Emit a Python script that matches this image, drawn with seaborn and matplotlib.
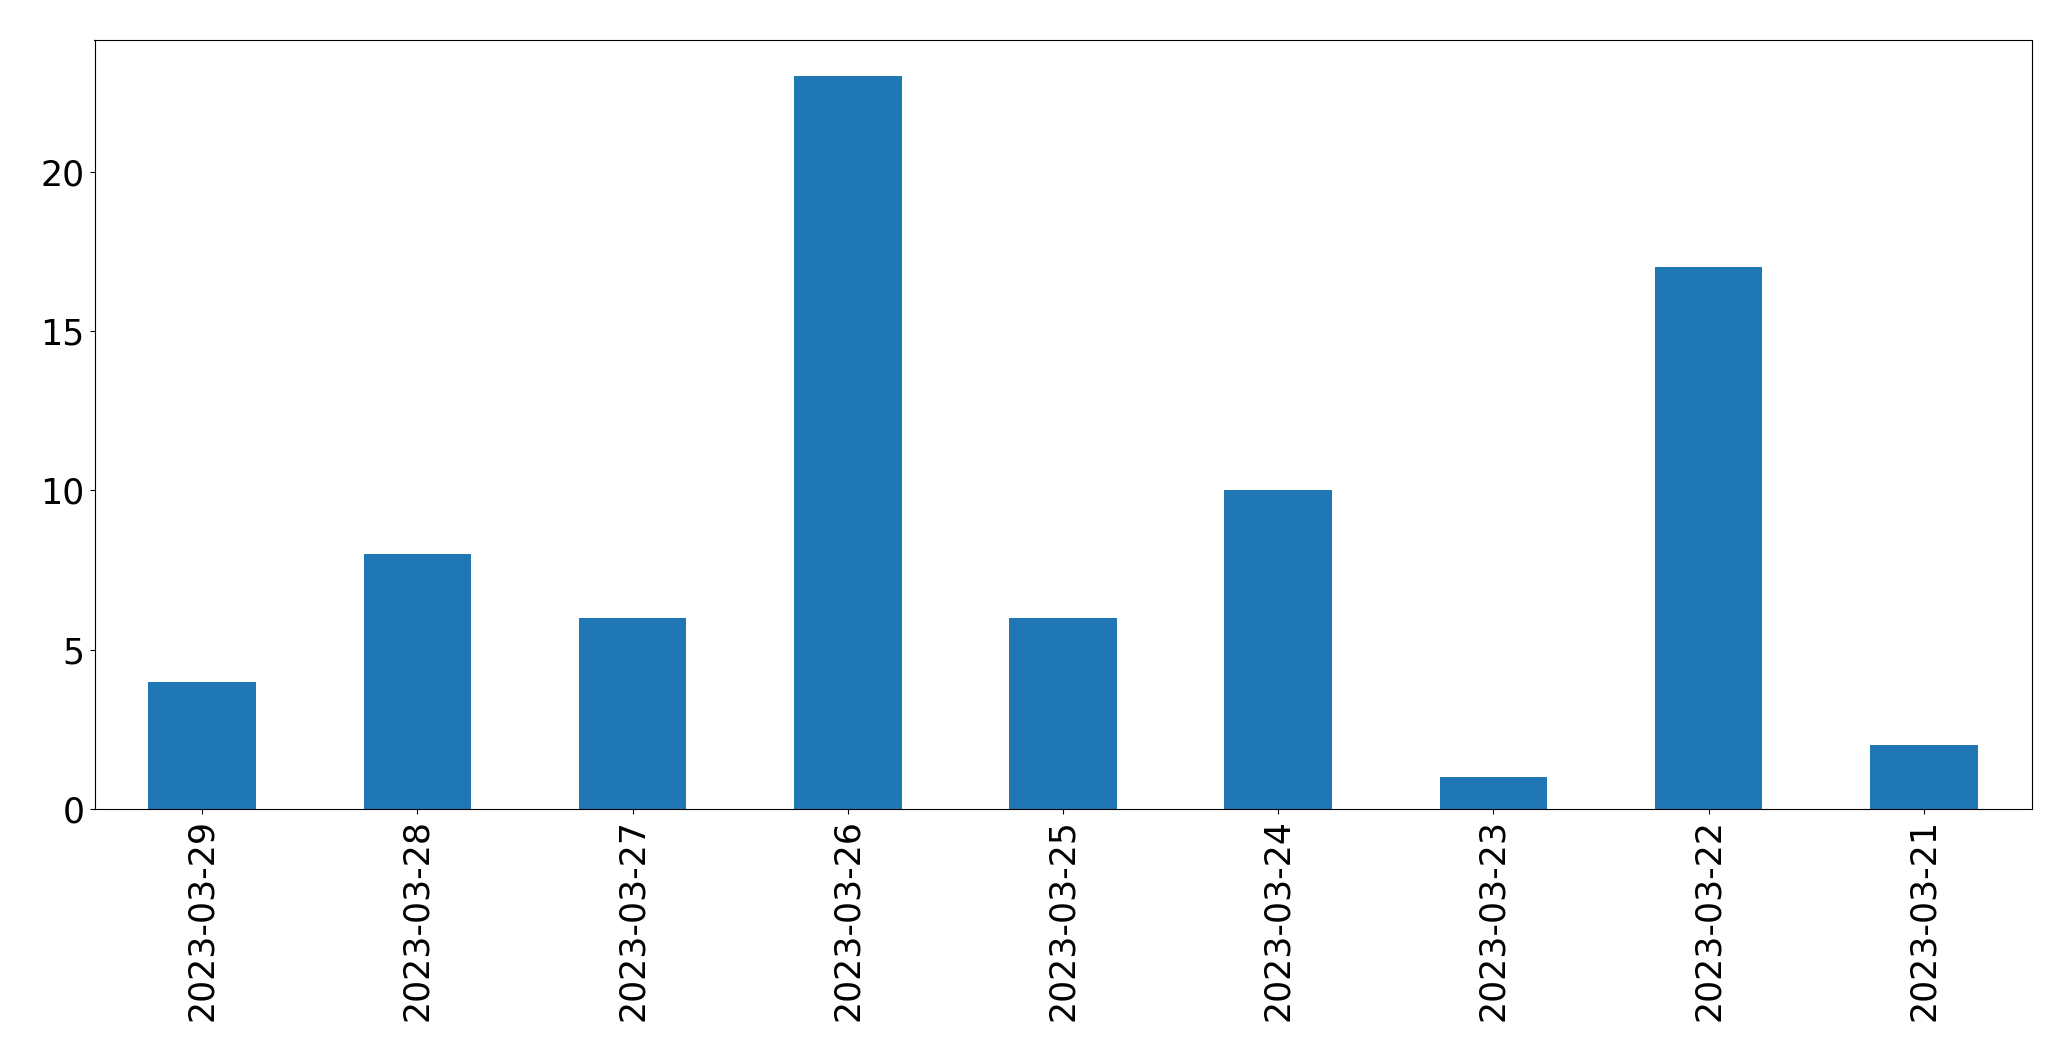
import pandas as pd
from matplotlib import pyplot as plt
import seaborn as sns

dates = ['2023-03-29', '2023-03-28', '2023-03-27', '2023-03-26', '2023-03-25',
         '2023-03-24', '2023-03-23', '2023-03-22', '2023-03-21']
counts = [4, 8, 6, 23, 6, 10, 1, 17, 2]

df = pd.DataFrame({'date': dates, 'count': counts})

fig, ax = plt.subplots(figsize=(20.71, 10.61), dpi=100)
fig.subplots_adjust(left=94.5 / 2071, right=2031.5 / 2071, top=1 - 39.5 / 1061, bottom=1 - 809 / 1061)

sns.barplot(data=df, x='date', y='count', order=dates, color='#1f77b4',
            saturation=1, width=0.5, ax=ax)
ax.set_xlim(-0.5, len(dates) - 0.5)
ax.set_ylim(0, max(counts) * 1.05)
ax.set_xlabel('')
ax.set_ylabel('')
ax.tick_params(axis='both', labelsize=25)
ax.tick_params(axis='x', labelrotation=90)

fig.savefig('out.png', dpi=100)
